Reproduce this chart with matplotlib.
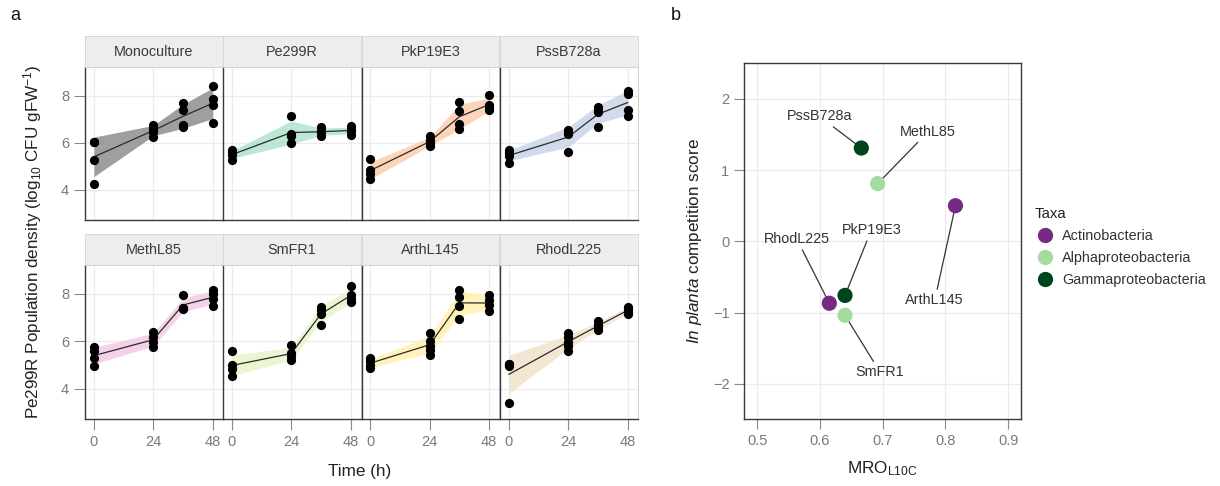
import numpy as np
import matplotlib.pyplot as plt
from matplotlib.lines import Line2D

plt.rcParams['font.family'] = ['Liberation Sans', 'DejaVu Sans']
plt.rcParams['mathtext.fontset'] = 'custom'
plt.rcParams['mathtext.rm'] = 'Liberation Sans'
plt.rcParams['mathtext.it'] = 'Liberation Sans:italic'

# ---- panel a: Pe299R density over time, replicates per time point ----
times = [0, 24, 36, 48]

monoculture = [[6.04, 6.04, 5.26, 4.27], [6.77, 6.60, 6.46, 6.25], [7.69, 7.41, 6.74, 6.65], [8.40, 7.88, 7.60, 6.84]]
pe299r = [[5.68, 5.55, 5.47, 5.29], [7.13, 6.36, 6.28, 5.97], [6.65, 6.50, 6.45, 6.28], [6.70, 6.55, 6.50, 6.35]]
pkp19e3 = [[5.33, 4.83, 4.66, 4.48], [6.28, 6.11, 5.97, 5.85], [7.74, 7.34, 6.79, 6.57], [8.02, 7.60, 7.50, 7.38]]
pssb728a = [[5.68, 5.55, 5.45, 5.16], [6.53, 6.45, 6.39, 5.61], [7.50, 7.40, 7.30, 6.65], [8.20, 8.09, 7.41, 7.14]]
methl85 = [[5.74, 5.60, 5.28, 4.96], [6.38, 6.17, 5.98, 5.74], [7.97, 7.40, 7.40, 7.36], [8.15, 7.98, 7.80, 7.49]]
smfr1 = [[5.57, 5.00, 4.83, 4.52], [5.84, 5.51, 5.37, 5.21], [7.45, 7.30, 7.16, 6.69], [8.33, 7.94, 7.80, 7.66]]
arthl145 = [[5.28, 5.15, 5.02, 4.86], [6.35, 6.03, 5.82, 5.65, 5.43], [8.15, 7.87, 7.51, 6.96], [7.94, 7.73, 7.52, 7.27]]
rhodl225 = [[5.03, 5.03, 4.95, 3.41], [6.35, 6.18, 5.97, 5.80, 5.61], [6.84, 6.70, 6.60, 6.46], [7.45, 7.35, 7.25, 7.17]]

facet_names = ['Monoculture', 'Pe299R', 'PkP19E3', 'PssB728a', 'MethL85', 'SmFR1', 'ArthL145', 'RhodL225']
facet_data = [monoculture, pe299r, pkp19e3, pssb728a, methl85, smfr1, arthl145, rhodl225]
facet_colors = ['#8e8e8e', '#B3E2CD', '#FDCDAC', '#CBD5E8', '#F4CAE4', '#E6F5C9', '#FFF2AE', '#F1E2CC']

# ---- panel b: competition score vs MRO ----
strains_b = ['PssB728a', 'MethL85', 'ArthL145', 'PkP19E3', 'RhodL225', 'SmFR1']
mro = [0.666, 0.692, 0.816, 0.640, 0.615, 0.640]
score = [1.31, 0.81, 0.50, -0.76, -0.87, -1.04]
taxa = ['Gammaproteobacteria', 'Alphaproteobacteria', 'Actinobacteria',
        'Gammaproteobacteria', 'Actinobacteria', 'Alphaproteobacteria']
taxa_levels = ['Actinobacteria', 'Alphaproteobacteria', 'Gammaproteobacteria']
taxa_colors = {'Actinobacteria': '#762a83', 'Alphaproteobacteria': '#a6dba0',
               'Gammaproteobacteria': '#00441b'}

W, H = 1220, 486
fig = plt.figure(figsize=(W / 100, H / 100), dpi=100)


def fbox(x0, y0, x1, y1):
    # pixel box (top-left origin) -> figure fraction rect
    return [x0 / W, 1 - y1 / H, (x1 - x0) / W, (y1 - y0) / H]


col_x = [85, 223, 361.5, 500]
col_w = 138
rows = [(36, 67, 220), (234, 265, 419)]
tick_gray = '#7a7a7a'
title_col = '#222222'

for i, (name, reps, col) in enumerate(zip(facet_names, facet_data, facet_colors)):
    r, c = divmod(i, 4)
    st, pt, pb = rows[r]
    x0 = col_x[c]
    ax = fig.add_axes(fbox(x0, pt, x0 + col_w, pb))
    means = np.array([np.mean(v) for v in reps])
    sds = np.array([np.std(v, ddof=1) for v in reps])
    ax.fill_between(times, means - sds, means + sds, color=col, alpha=0.85, lw=0, zorder=1)
    ax.plot(times, means, color='#2b2b2b', lw=0.9, zorder=2)
    for t, v in zip(times, reps):
        ax.scatter([t] * len(v), v, s=44, color='black', lw=0, zorder=3)
    ax.set_xlim(-3.6, 52.2)
    ax.set_ylim(2.72, 9.22)
    ax.set_xticks([0, 24, 48])
    ax.set_yticks([4, 6, 8])
    ax.grid(True, color='#ebebeb', lw=0.9, zorder=0)
    ax.set_axisbelow(True)
    for s in ['top', 'right']:
        ax.spines[s].set_color('#c8c8c8')
        ax.spines[s].set_linewidth(0.6)
    for s in ['left', 'bottom']:
        ax.spines[s].set_color('#3a3a3a')
        ax.spines[s].set_linewidth(1.0)
    ax.tick_params(colors='#8a8a8a', labelcolor=tick_gray, labelsize=10.5, length=8, width=0.8)
    if c != 0:
        ax.tick_params(axis='y', left=False, labelleft=False)
    if r != 1:
        ax.tick_params(axis='x', bottom=False, labelbottom=False)

    sax = fig.add_axes(fbox(x0, st, x0 + col_w, pt))
    sax.set_facecolor('#ededed')
    sax.set_xticks([])
    sax.set_yticks([])
    for s in sax.spines.values():
        s.set_color('#d4d4d4')
        s.set_linewidth(0.6)
    sax.text(0.5, 0.5, name, ha='center', va='center', fontsize=10.4, color='#3a3a3a',
             transform=sax.transAxes)

fig.text(33 / W, 1 - 242 / H, r'Pe299R Population density (log$_{10}$ CFU gFW$^{-1}$)',
         rotation=90, ha='center', va='center', fontsize=12.3, color=title_col)
fig.text(360 / W, 1 - 471 / H, 'Time (h)', ha='center', va='center', fontsize=12.3, color=title_col)
fig.text(15 / W, 1 - 15 / H, 'a', ha='center', va='center', fontsize=13, color='#111111')
fig.text(676 / W, 1 - 15 / H, 'b', ha='center', va='center', fontsize=13, color='#111111')

# ---- panel b ----
bx = fig.add_axes(fbox(744, 63.3, 1020.7, 419.3))
bx.set_xlim(0.479, 0.92)
bx.set_ylim(-2.5, 2.5)
bx.set_xticks([0.5, 0.6, 0.7, 0.8, 0.9])
bx.set_yticks([-2, -1, 0, 1, 2])
bx.set_xticklabels(['0.5', '0.6', '0.7', '0.8', '0.9'])
bx.set_yticklabels(['\u22122', '\u22121', '0', '1', '2'])
bx.grid(True, color='#ebebeb', lw=0.9)
bx.set_axisbelow(True)
for s in bx.spines.values():
    s.set_color('#3a3a3a')
    s.set_linewidth(1.0)
bx.tick_params(colors='#8a8a8a', labelcolor=tick_gray, labelsize=10.5, length=7, width=0.8)

label_pos = {'PssB728a': (0.599, 1.756), 'MethL85': (0.7725, 1.54), 'ArthL145': (0.783, -0.83),
             'PkP19E3': (0.682, 0.16), 'RhodL225': (0.563, 0.035), 'SmFR1': (0.696, -1.84)}
for name, x, y in zip(strains_b, mro, score):
    bx.annotate(name, xy=(x, y), xytext=label_pos[name], ha='center', va='center',
                fontsize=10.4, color='#333333',
                arrowprops=dict(arrowstyle='-', color='#333333', lw=0.9, shrinkA=1, shrinkB=5))
bx.scatter(mro, score, s=120, c=[taxa_colors[t] for t in taxa], lw=0, zorder=3)
bx.set_xlabel(r'MRO$_{\mathrm{L10C}}$', fontsize=12.3, color=title_col, labelpad=8)
bx.set_ylabel(r'$\mathit{In\ planta}$ competition score', fontsize=12.3, color=title_col, labelpad=6)

handles = [Line2D([], [], marker='o', ls='', markersize=11, markeredgewidth=0,
                  color=taxa_colors[t]) for t in taxa_levels]
leg = fig.legend(handles, taxa_levels, title='Taxa', loc='upper left',
                 bbox_to_anchor=(1035 / W, 1 - 207 / H), frameon=False, fontsize=10.4,
                 title_fontsize=10.8, handletextpad=0.5, labelspacing=0.55, borderaxespad=0,
                 borderpad=0, handlelength=1.4)
leg._legend_box.align = 'left'
for t in leg.get_texts():
    t.set_color('#333333')
leg.get_title().set_color('#222222')

fig.savefig('out.png', dpi=100)
